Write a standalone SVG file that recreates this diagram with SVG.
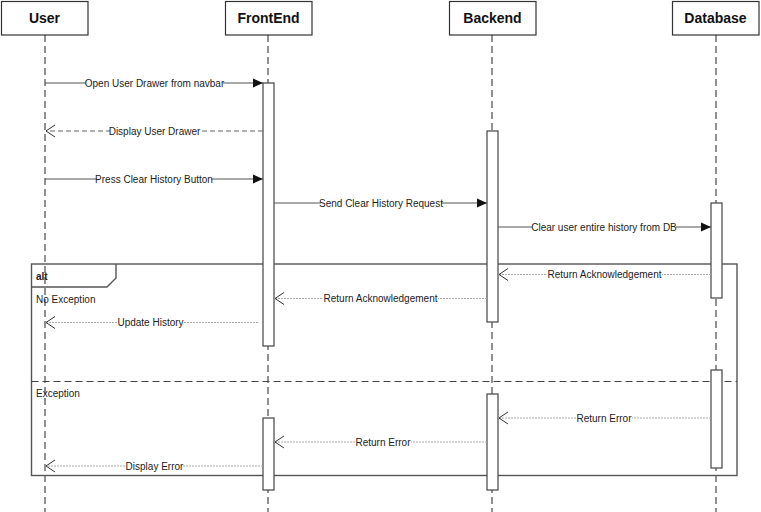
<svg xmlns="http://www.w3.org/2000/svg" width="761" height="512" viewBox="0 0 761 512">
  <style>
    .head { fill: #fff; stroke: #333; stroke-width: 1.2; }
    .head-label { font-family: "Liberation Sans", Arial, sans-serif; font-size: 14px; font-weight: bold; fill: #111; text-anchor: middle; }
    .life { stroke: #222; stroke-width: 1; stroke-dasharray: 7 4; fill: none; }
    .act { fill: #fff; stroke: #444; stroke-width: 1.2; }
    .call { stroke: #555; stroke-width: 1; fill: none; marker-end: url(#solidHead); }
    .reply { stroke: #666; stroke-width: 1; stroke-dasharray: 5 3; fill: none; marker-end: url(#openHead); }
    .ret { stroke: #aaa; stroke-width: 1; stroke-dasharray: 2 1; fill: none; marker-end: url(#openHead); }
    .msg { font-family: "Liberation Sans", Arial, sans-serif; font-size: 10px; fill: #222; text-anchor: middle; dominant-baseline: central; }
    .bg { fill: #fff; }
    .frame { fill: none; stroke: #555; stroke-width: 1.4; }
    .sep { stroke: #444; stroke-width: 1; stroke-dasharray: 7 4; }
    .frame-label { font-family: "Liberation Sans", Arial, sans-serif; font-size: 10px; fill: #222; dominant-baseline: central; }
  </style>
  <defs>
    <marker id="solidHead" markerUnits="userSpaceOnUse" markerWidth="11" markerHeight="10" refX="10" refY="5" orient="auto">
      <path d="M0,0.5 L10,5 L0,9.5 z" fill="#111"/>
    </marker>
    <marker id="openHead" markerUnits="userSpaceOnUse" markerWidth="12" markerHeight="14" refX="10" refY="7" orient="auto">
      <path d="M1,1 L10,7 L1,13" fill="none" stroke="#333" stroke-width="1"/>
    </marker>
  </defs>

  <!-- lifelines -->
  <g id="lifelines">
    <line class="life" x1="45" y1="35" x2="45" y2="512"/>
    <line class="life" x1="268" y1="35" x2="268" y2="512"/>
    <line class="life" x1="492" y1="35" x2="492" y2="512"/>
    <line class="life" x1="716" y1="35" x2="716" y2="512"/>
  </g>

  <!-- participants -->
  <g id="user">
    <rect class="head" x="1.5" y="1.5" width="86.5" height="33.5"/>
    <text class="head-label" x="44.5" y="23">User</text>
  </g>
  <g id="frontend">
    <rect class="head" x="225.5" y="1.5" width="86.5" height="33.5"/>
    <text class="head-label" x="268.5" y="23">FrontEnd</text>
  </g>
  <g id="backend">
    <rect class="head" x="449.5" y="1.5" width="86.5" height="33.5"/>
    <text class="head-label" x="492.5" y="23">Backend</text>
  </g>
  <g id="database">
    <rect class="head" x="672.5" y="1.5" width="86.5" height="33.5"/>
    <text class="head-label" x="715.5" y="23">Database</text>
  </g>

  <!-- combined fragment -->
  <g id="alt-fragment">
    <rect class="frame" x="31.5" y="264" width="705.5" height="211.5"/>
    <path class="frame" d="M31.5,287 H107 L116,278 V264"/>
    <text class="frame-label" x="36" y="276" font-weight="bold">alt</text>
    <text class="frame-label" x="36" y="299">No Exception</text>
    <line class="sep" x1="31.5" y1="381.5" x2="737" y2="381.5"/>
    <text class="frame-label" x="36" y="393">Exception</text>
  </g>

  <!-- activations -->
  <g id="activations">
    <rect class="act" x="263" y="83" width="11" height="263"/>
    <rect class="act" x="487" y="131" width="11" height="191"/>
    <rect class="act" x="711" y="203" width="11" height="95"/>
    <rect class="act" x="711" y="370" width="11" height="98"/>
    <rect class="act" x="487" y="394" width="11" height="96"/>
    <rect class="act" x="263" y="418" width="11" height="72"/>
  </g>

  <!-- messages -->
  <g id="connectors">
    <line class="call" x1="45" y1="83" x2="263" y2="83"/>
    <rect class="bg" x="86" y="77" width="137" height="12"/>
    <text class="msg" x="154.5" y="83">Open User Drawer from navbar</text>

    <line class="reply" x1="263" y1="131" x2="46" y2="131"/>
    <rect class="bg" x="110" y="125" width="89" height="12"/>
    <text class="msg" x="154.5" y="131">Display User Drawer</text>

    <line class="call" x1="45" y1="179" x2="263" y2="179"/>
    <rect class="bg" x="97" y="173" width="114" height="12"/>
    <text class="msg" x="154" y="179">Press Clear History Button</text>

    <line class="call" x1="274" y1="203" x2="487" y2="203"/>
    <rect class="bg" x="321" y="197" width="120" height="12"/>
    <text class="msg" x="381" y="203">Send Clear History Request</text>

    <line class="call" x1="498" y1="227" x2="711" y2="227"/>
    <rect class="bg" x="532" y="221" width="144" height="12"/>
    <text class="msg" x="604" y="227">Clear user entire history from DB</text>

    <line class="ret" x1="711" y1="274.5" x2="499" y2="274.5"/>
    <rect class="bg" x="547" y="268" width="115" height="12"/>
    <text class="msg" x="604.5" y="274.5">Return Acknowledgement</text>

    <line class="ret" x1="487" y1="298.5" x2="275" y2="298.5"/>
    <rect class="bg" x="323" y="292" width="115" height="12"/>
    <text class="msg" x="380.5" y="298.5">Return Acknowledgement</text>

    <line class="ret" x1="258" y1="322.5" x2="46" y2="322.5"/>
    <rect class="bg" x="117" y="316" width="67" height="12"/>
    <text class="msg" x="150.5" y="322.5">Update History</text>

    <line class="ret" x1="711" y1="418" x2="499" y2="418"/>
    <rect class="bg" x="576" y="412" width="56" height="12"/>
    <text class="msg" x="604" y="418">Return Error</text>

    <line class="ret" x1="487" y1="442" x2="275" y2="442"/>
    <rect class="bg" x="355" y="436" width="56" height="12"/>
    <text class="msg" x="383" y="442">Return Error</text>

    <line class="ret" x1="263" y1="466" x2="46" y2="466"/>
    <rect class="bg" x="126" y="460" width="57" height="12"/>
    <text class="msg" x="154.5" y="466">Display Error</text>
  </g>
</svg>
